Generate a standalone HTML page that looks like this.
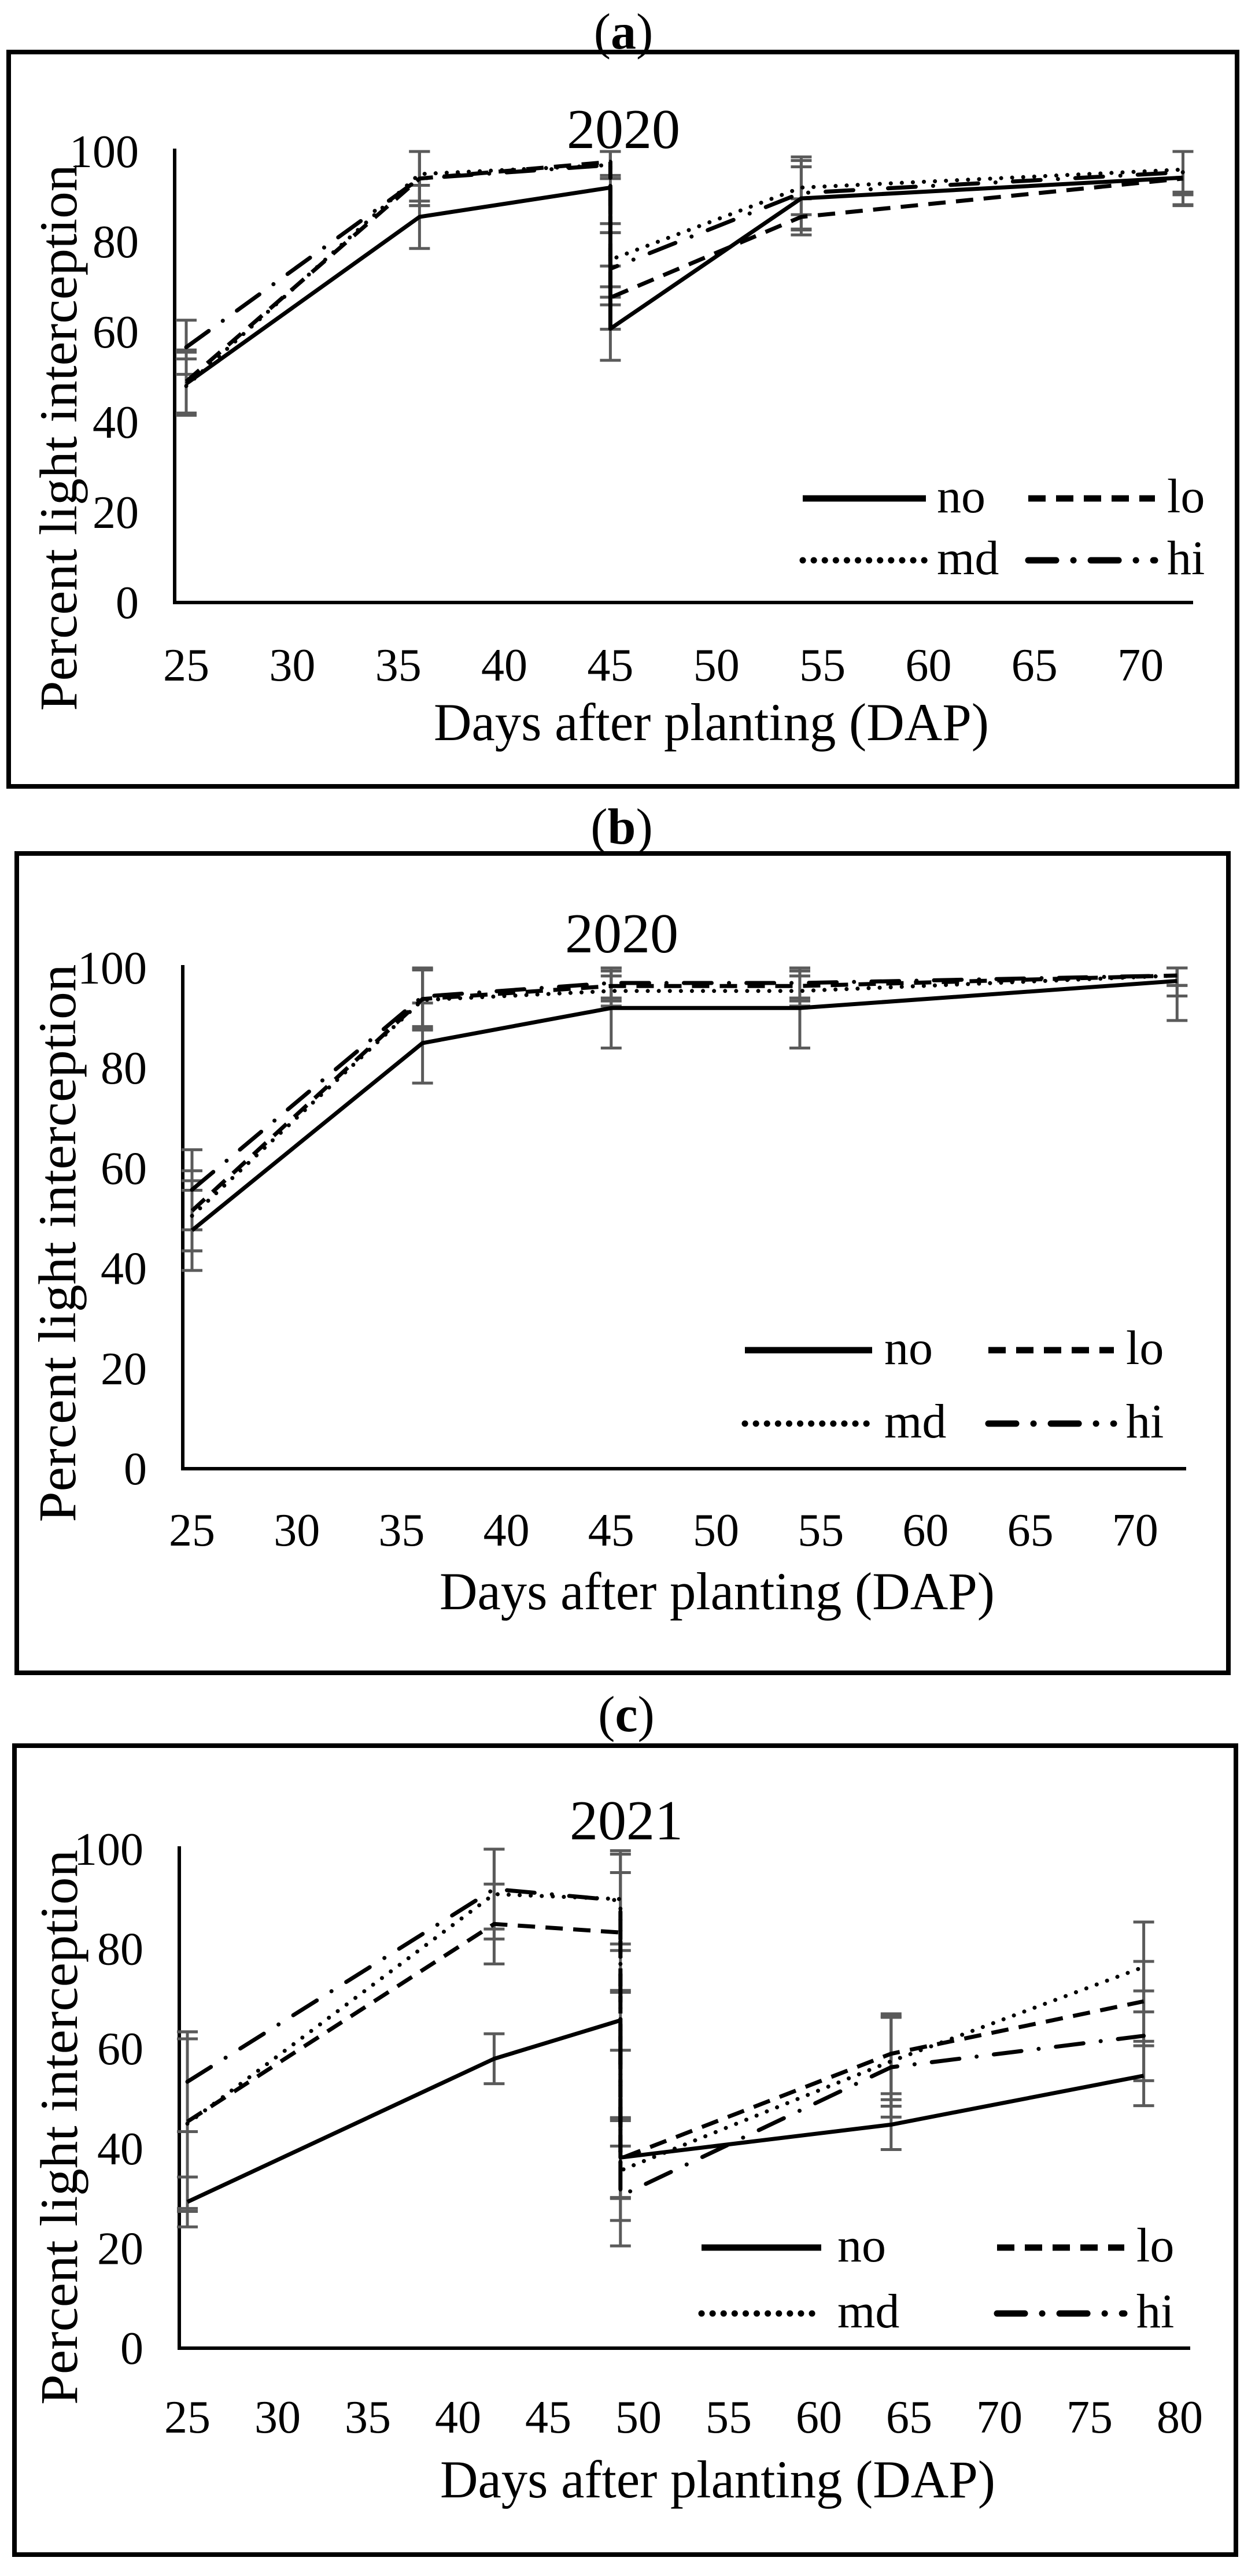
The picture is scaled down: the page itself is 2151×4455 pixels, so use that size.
<!DOCTYPE html>
<html><head><meta charset="utf-8"><style>
html,body{margin:0;padding:0;background:#fff;}
svg{display:block;font-family:"Liberation Serif",serif;}
</style></head><body>
<svg id="fig" width="2151" height="4455" viewBox="0 0 2151 4455" xmlns="http://www.w3.org/2000/svg"></svg>
<script>
// ---------- data ----------
const seriesNames = ["no","lo","md","hi"];
const daysA = [25,36,45,45,54,72];
const noA = [48.5,85.5,92,60.7,89.6,94.2];
const loA = [49,94,97.7,67.6,85.5,94];
const mdA = [48,95,97,76,92,96];
const hiA = [56.6,94,97,74,90.8,95.4];
const errNoA = [7,7,8,7,7,6];
const errLoA = [7,6,3,7,4,6];
const errMdA = [6,6,3,6,6,5];
const errHiA = [6,6,3,8,8,5];
const ticksXA = [25,30,35,40,45,50,55,60,65,70];

const daysB = [25,36,45,54,72];
const noB = [47.6,85,92,92,97.4];
const loB = [51.5,93.8,96.4,96.4,98.5];
const mdB = [50.5,93.6,95.4,95.4,98.5];
const hiB = [55.7,94.3,97,97,98.5];
const errNoB = [8,8,8,8,3];
const errLoB = [8,6,3,3,2];
const errMdB = [7,6,3,3,2];
const errHiB = [8,6,3,3,9];
const ticksXB = [25,30,35,40,45,50,55,60,65,70];

const daysC = [25,42,49,49,64,78];
const noC = [29.3,58,65.7,38.2,44.8,54.6];
const loC = [45.4,85,83.3,38,59,69.5];
const mdC = [45,91,90,35.6,57.5,76.4];
const hiC = [53.4,92,89.7,30.5,56.3,62.6];
const errNoC = [5,5,6,8,5,6];
const errLoC = [18,8,12,8,8,8];
const errMdC = [17,9,9,10,9,9];
const errHiC = [10,8,10,10,10,9];
const ticksXC = [25,30,35,40,45,50,55,60,65,70,75,80];
const ticksY = [0,20,40,60,80,100];

// ---------- layout ----------
const NS="http://www.w3.org/2000/svg";
const svg=document.getElementById('fig');
function mk(tag,attrs,parent){const e=document.createElementNS(NS,tag);for(const k in attrs)e.setAttribute(k,attrs[k]);(parent||svg).appendChild(e);return e;}
const styles={
 no:{"stroke-dasharray":"none","stroke-linecap":"butt"},
 lo:{"stroke-dasharray":"30 18","stroke-linecap":"butt"},
 md:{"stroke-dasharray":"0.1 19","stroke-linecap":"round"},
 hi:{"stroke-dasharray":"48 30 0.1 30","stroke-linecap":"round"}
};
const panels=[
 {id:"a",label:"a",year:"2020",box:[15,90,2139,1360],axisX:302,y0:1042,y100:262,x25:322,perDay:36.67,axisEnd:2063,tickY:1150,titleY:1250,titleX:1230,ytY:757,ytX:102,ytLen:945,
  leg:{r1:862,r2:969,c1:[1388,1601,1620],c2:[1778,1997,2018]},labY:54,yearY:223,cx:1078,
  days:daysA,vals:[noA,loA,mdA,hiA],errs:[errNoA,errLoA,errMdA,errHiA],ticksX:ticksXA},
 {id:"b",label:"b",year:"2020",box:[29,1476,2124,2893],axisX:316,y0:2540,y100:1674,x25:332,perDay:36.24,axisEnd:2051,tickY:2646,titleY:2753,titleX:1240,ytY:2150,ytX:100,ytLen:965,
  leg:{r1:2335,r2:2462,c1:[1288,1508,1529],c2:[1709,1926,1947]},labY:1429,yearY:1614,cx:1075,
  days:daysB,vals:[noB,loB,mdB,hiB],errs:[errNoB,errLoB,errMdB,errHiB],ticksX:ticksXB},
 {id:"c",label:"c",year:"2021",box:[25,3019,2137,4418],axisX:310,y0:4061,y100:3198,x25:324,perDay:31.2,axisEnd:2058,tickY:4180,titleY:4289,titleX:1241,ytY:3679,ytX:103,ytLen:960,
  leg:{r1:3887,r2:4001,c1:[1213,1420,1448],c2:[1724,1944,1965]},labY:2964,yearY:3148,cx:1083,
  days:daysC,vals:[noC,loC,mdC,hiC],errs:[errNoC,errLoC,errMdC,errHiC],ticksX:ticksXC}
];

panels.forEach(p=>{
  const g=mk('g',{});
  
  
  const X=d=>p.x25+(d-25)*p.perDay;
  const Y=v=>p.y0-(v/100)*(p.y0-p.y100);
  const lab=mk('text',{x:p.cx,y:p.labY+30,"text-anchor":"middle","font-size":88},g);
  lab.innerHTML='(<tspan font-weight="bold">'+p.label+'</tspan>)';
  
  
  const fr=mk('rect',{x:p.box[0],y:p.box[1],width:p.box[2]-p.box[0],height:p.box[3]-p.box[1],fill:"none",stroke:"#000","stroke-width":8},g);
  
  
  const yr=mk('text',{x:p.cx,y:p.yearY+33,"text-anchor":"middle","font-size":98},g);
  yr.textContent=p.year;
  
  
  ticksY.forEach(t=>{
    const e=mk('text',{x:p.axisX-62,y:Y(t)+27,"text-anchor":"end","font-size":80},g);
    e.textContent=t;
    
    
  });
  p.ticksX.forEach(t=>{
    const e=mk('text',{x:X(t),y:p.tickY+27,"text-anchor":"middle","font-size":80},g);
    e.textContent=t;
    
    
  });
  const xt=mk('text',{x:p.titleX,y:p.titleY+30,"text-anchor":"middle","font-size":92,textLength:960,lengthAdjust:"spacingAndGlyphs"},g);
  xt.textContent="Days after planting (DAP)";
  
  
  const yt=mk('text',{x:0,y:0,"text-anchor":"middle","font-size":92,textLength:p.ytLen,lengthAdjust:"spacingAndGlyphs",transform:`translate(${p.ytX+30},${p.ytY}) rotate(-90)`},g);
  yt.textContent="Percent light interception";
  
  
  const ax=mk('path',{d:`M${p.axisX},${p.y100-5} L${p.axisX},${p.y0} L${p.axisEnd},${p.y0}`,fill:"none",stroke:"#000","stroke-width":6},g);
  
  
  p.vals.forEach((vals,si)=>{
    vals.forEach((v,i)=>{
      const e=p.errs[si][i];
      const hi=Math.min(v+e,100), lo=v-e;
      const x=X(p.days[i]);
      const eb=mk('path',{d:`M${x},${Y(hi)} L${x},${Y(lo)} M${x-18},${Y(hi)} L${x+18},${Y(hi)} M${x-18},${Y(lo)} L${x+18},${Y(lo)}`,stroke:"#5a5a5a","stroke-width":5,fill:"none"},g);
      
      
    });
  });
  p.vals.forEach((vals,si)=>{
    const d=vals.map((v,i)=>(i?'L':'M')+X(p.days[i]).toFixed(1)+','+Y(v).toFixed(1)).join(' ');
    const st=styles[seriesNames[si]];
    const ln=mk('path',Object.assign({d:d,fill:"none",stroke:"#000","stroke-width":7,"stroke-linejoin":"round"},st),g);
    
    
  });
  const L=p.leg;
  [[L.r1,L.c1,0],[L.r1,L.c2,1],[L.r2,L.c1,2],[L.r2,L.c2,3]].forEach(([ry,c,si])=>{
    const st=styles[seriesNames[si]];
    const ll=mk('line',Object.assign({x1:c[0],x2:c[1],y1:ry,y2:ry,stroke:"#000","stroke-width":11},st),g);
    
    
    const lt=mk('text',{x:c[2],y:ry+24,"font-size":84},g);
    lt.textContent=seriesNames[si];
    
    
  });
});
</script>
</body></html>
